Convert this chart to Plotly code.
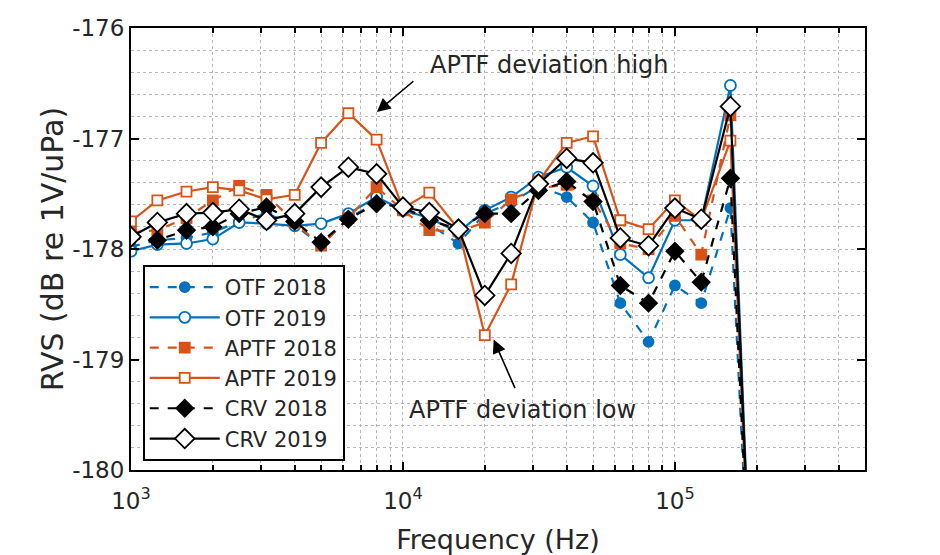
import plotly.graph_objects as go

freq = [1000, 1250, 1600, 2000, 2500, 3150, 4000, 5000, 6300, 8000, 10000, 12500,
        16000, 20000, 25000, 31500, 40000, 50000, 63000, 80000, 100000, 125000,
        160000, 200000]

otf_2018 = [-177.98, -177.92, -177.90, -177.85, -177.75, -177.68, -177.78, -177.97,
            -177.72, -177.58, -177.62, -177.78, -177.95, -177.68, -177.58, -177.43,
            -177.53, -177.76, -178.49, -178.84, -178.33, -178.49, -177.63, -182.5]
otf_2019 = [-178.02, -177.96, -177.95, -177.91, -177.76, -177.77, -177.79, -177.77,
            -177.68, -177.53, -177.65, -177.72, -177.85, -177.65, -177.53, -177.35,
            -177.26, -177.43, -178.05, -178.26, -177.74, -177.74, -176.52, -182.5]
aptf_2018 = [-177.85, -177.83, -177.72, -177.56, -177.43, -177.51, -177.76, -177.97,
             -177.72, -177.44, -177.65, -177.83, -177.84, -177.76, -177.55, -177.45,
             -177.42, -177.56, -177.95, -178.00, -177.70, -178.05, -176.79, -182.5]
aptf_2019 = [-177.75, -177.56, -177.48, -177.44, -177.47, -177.55, -177.51, -177.04,
             -176.77, -177.01, -177.63, -177.49, -177.82, -178.78, -178.32, -177.39,
             -177.04, -176.98, -177.74, -177.82, -177.56, -177.74, -177.02, -182.5]
crv_2018 = [-177.90, -177.92, -177.83, -177.80, -177.68, -177.62, -177.75, -177.94,
            -177.73, -177.59, -177.62, -177.74, -177.82, -177.68, -177.68, -177.47,
            -177.39, -177.57, -178.33, -178.49, -178.02, -178.30, -177.36, -182.5]
crv_2019 = [-177.89, -177.76, -177.68, -177.67, -177.64, -177.74, -177.68, -177.44,
            -177.26, -177.32, -177.62, -177.67, -177.82, -178.42, -178.04, -177.41,
            -177.18, -177.22, -177.90, -177.97, -177.63, -177.73, -176.71, -182.5]

y_ticks = [-180, -179, -178, -177, -176]
y_ticktext = ["-180", "-179", "-178", "-177", "-176"]
x_ticks = [1000, 10000, 100000]
x_ticktext = ["10<sup>3</sup>", "10<sup>4</sup>", "10<sup>5</sup>"]

BLUE = "#0072BD"
ORANGE = "#D95319"
BLACK = "#000000"
FONT = "DejaVu Sans"
TXT = "#262626"

series = [
    ("OTF 2018", otf_2018, BLUE, "dash", "circle", BLUE, 10),
    ("OTF 2019", otf_2019, BLUE, "solid", "circle", "white", 11),
    ("APTF 2018", aptf_2018, ORANGE, "dash", "square", ORANGE, 10),
    ("APTF 2019", aptf_2019, ORANGE, "solid", "square", "white", 10),
    ("CRV 2018", crv_2018, BLACK, "dash", "diamond", BLACK, 13),
    ("CRV 2019", crv_2019, BLACK, "solid", "diamond", "white", 15),
]

fig = go.Figure()
for name, vals, col, dash, sym, fill, size in series:
    fig.add_trace(go.Scatter(
        x=freq, y=vals, name=name, mode="lines+markers",
        line=dict(color=col, width=2.2, dash=dash),
        marker=dict(symbol=sym, size=size, color=fill, line=dict(color=col, width=1.8)),
        cliponaxis=True,
    ))

minor_x = [m * 10 ** e for e in (3, 4) for m in range(2, 10)] + [200000, 300000, 400000, 500000]
grid_col = "#b8b8b8"

fig.update_xaxes(
    type="log", range=[3, 5.69897], automargin=False,
    tickvals=x_ticks, ticktext=x_ticktext,
    ticks="inside", ticklen=8, tickwidth=1.5, tickcolor="black",
    showline=True, linecolor="black", linewidth=2, mirror="allticks",
    showgrid=True, gridcolor=grid_col, griddash="dot", gridwidth=1,
    minor=dict(tickvals=minor_x, ticks="inside", ticklen=5, tickcolor="black",
               showgrid=True, gridcolor=grid_col, griddash="dot", gridwidth=1),
    tickfont=dict(size=23, color=TXT),
    ticklabelstandoff=9,
    title=dict(text="Frequency (Hz)", font=dict(size=27, color=TXT), standoff=20),
    zeroline=False,
)
fig.update_yaxes(
    range=[-180, -176], automargin=False, tickvals=y_ticks, ticktext=y_ticktext,
    ticks="inside", ticklen=8, tickwidth=1.5, tickcolor="black",
    showline=True, linecolor="black", linewidth=2, mirror="allticks",
    showgrid=True, gridcolor=grid_col, griddash="dot", gridwidth=1,
    minor=dict(dtick=0.2, tick0=-180, ticks="", showgrid=True, gridcolor=grid_col,
               griddash="dot", gridwidth=1),
    tickfont=dict(size=23, color=TXT),
    title=dict(text="RVS (dB re 1V/uPa)", font=dict(size=30, color=TXT), standoff=0),
    zeroline=False,
)

fig.add_annotation(x=3.904, y=-176.76, xref="x", yref="y", ax=38, ay=-32,
                   text="", showarrow=True, arrowhead=2, arrowsize=1.7, arrowwidth=1.6,
                   arrowcolor="black")
fig.add_annotation(x=4.3335, y=-178.82, xref="x", yref="y", ax=22, ay=50,
                   text="", showarrow=True, arrowhead=2, arrowsize=1.7, arrowwidth=1.6,
                   arrowcolor="black")
fig.add_annotation(x=0.5695, y=0.916, xref="paper", yref="paper", showarrow=False,
                   xanchor="center", yanchor="middle",
                   text="APTF deviation high", font=dict(size=24, color=TXT, family=FONT))
fig.add_annotation(x=0.533, y=0.136, xref="paper", yref="paper", showarrow=False,
                   xanchor="center", yanchor="middle",
                   text="APTF deviation low", font=dict(size=24, color=TXT, family=FONT))

fig.update_layout(
    width=940, height=555,
    margin=dict(l=131, r=75, t=28, b=85),
    plot_bgcolor="white", paper_bgcolor="white",
    font=dict(family=FONT, color=TXT),
    showlegend=True,
    legend=dict(x=0.016, y=0.464, xanchor="left", yanchor="top",
                bgcolor="white", bordercolor="black", borderwidth=2,
                font=dict(size=21, color=TXT), itemwidth=70,
                tracegroupgap=0),
)

fig.write_html("out.html")
